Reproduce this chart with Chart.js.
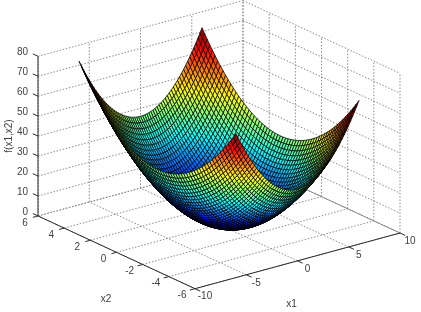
<!DOCTYPE html>
<html>
<head>
<meta charset="utf-8">
<script src="https://cdn.jsdelivr.net/npm/chart.js@4"></script>
<style>
html, body { margin: 0; padding: 0; background: #fff; }
canvas { display: block; }
</style>
</head>
<body>
<canvas id="chart_surface" width="421" height="312"></canvas>
<script>
// grid of the surface, both directions
var x1Grid = [-6,-5.8,-5.6,-5.4,-5.2,-5,-4.8,-4.6,-4.4,-4.2,-4,-3.8,-3.6,-3.4,-3.2,-3,-2.8,-2.6,-2.4,-2.2,-2,-1.8,-1.6,-1.4,-1.2,-1,-0.8,-0.6,-0.4,-0.2,0,0.2,0.4,0.6,0.8,1,1.2,1.4,1.6,1.8,2,2.2,2.4,2.6,2.8,3,3.2,3.4,3.6,3.8,4,4.2,4.4,4.6,4.8,5,5.2,5.4,5.6,5.8,6];
var x2Grid = [-6,-5.8,-5.6,-5.4,-5.2,-5,-4.8,-4.6,-4.4,-4.2,-4,-3.8,-3.6,-3.4,-3.2,-3,-2.8,-2.6,-2.4,-2.2,-2,-1.8,-1.6,-1.4,-1.2,-1,-0.8,-0.6,-0.4,-0.2,0,0.2,0.4,0.6,0.8,1,1.2,1.4,1.6,1.8,2,2.2,2.4,2.6,2.8,3,3.2,3.4,3.6,3.8,4,4.2,4.4,4.6,4.8,5,5.2,5.4,5.6,5.8,6];
// the picture only shows the bowl's edges, so the height is kept as one profile per
// direction, and each grid cell's height is the sum of the two profiles
var heightAlongX1 = [36,33.64,31.36,29.16,27.04,25,23.04,21.16,19.36,17.64,16,14.44,12.96,11.56,10.24,9,7.84,6.76,5.76,4.84,4,3.24,2.56,1.96,1.44,1,0.64,0.36,0.16,0.04,0,0.04,0.16,0.36,0.64,1,1.44,1.96,2.56,3.24,4,4.84,5.76,6.76,7.84,9,10.24,11.56,12.96,14.44,16,17.64,19.36,21.16,23.04,25,27.04,29.16,31.36,33.64,36];
var heightAlongX2 = [36,33.64,31.36,29.16,27.04,25,23.04,21.16,19.36,17.64,16,14.44,12.96,11.56,10.24,9,7.84,6.76,5.76,4.84,4,3.24,2.56,1.96,1.44,1,0.64,0.36,0.16,0.04,0,0.04,0.16,0.36,0.64,1,1.44,1.96,2.56,3.24,4,4.84,5.76,6.76,7.84,9,10.24,11.56,12.96,14.44,16,17.64,19.36,21.16,23.04,25,27.04,29.16,31.36,33.64,36];

var x1Ticks = [-10,-5,0,5,10];
var x2Ticks = [-6,-4,-2,0,2,4,6];
var zTicks = [0,10,20,30,40,50,60,70,80];
var colorMax = 72;

// fixed view, same as the axes box in the picture
function project(x1, x2, z) {
    return {
        x: 195 + (x1 + 10) * 10.25 - (x2 + 6) * 13.08,
        y: 288.7 - (x1 + 10) * 2.785 - (x2 + 6) * 6.06 - z * 1.996
    };
}

function jet(v) {
    var t = Math.max(0, Math.min(1, v / colorMax));
    var ch = function (c) { return Math.round(255 * Math.max(0, Math.min(1, 1.5 - Math.abs(4 * t - c)))); };
    return 'rgb(' + ch(3) + ',' + ch(2) + ',' + ch(1) + ')';
}

var datasets = [];

// near cells first, the library paints the first dataset last
for (var i = 0; i < x1Grid.length - 1; i++) {
    for (var j = 0; j < x2Grid.length - 1; j++) {
        var z00 = heightAlongX1[i] + heightAlongX2[j];
        var z10 = heightAlongX1[i + 1] + heightAlongX2[j];
        var z11 = heightAlongX1[i + 1] + heightAlongX2[j + 1];
        var z01 = heightAlongX1[i] + heightAlongX2[j + 1];
        datasets.push({
            showLine: true,
            fill: 'shape',
            backgroundColor: jet((z00 + z10 + z11 + z01) / 4),
            borderColor: '#000',
            borderWidth: 0.75,
            data: [
                project(x1Grid[i], x2Grid[j], z00),
                project(x1Grid[i + 1], x2Grid[j], z10),
                project(x1Grid[i + 1], x2Grid[j + 1], z11),
                project(x1Grid[i], x2Grid[j + 1], z01),
                project(x1Grid[i], x2Grid[j], z00)
            ]
        });
    }
}

function addLine(a, b, color, width, dash) {
    datasets.push({
        showLine: true,
        fill: false,
        borderColor: color,
        borderWidth: width,
        borderDash: dash,
        data: [a, b]
    });
}

var axisColor = '#2b2b2b';
var gridColor = '#8a8a8a';
var gridDash = [1.5, 1.7];

// axes and tick marks
addLine(project(-10, 6, 0), project(-10, 6, 80), axisColor, 1);
addLine(project(-10, -6, 0), project(-10, 6, 0), axisColor, 1);
addLine(project(-10, -6, 0), project(10, -6, 0), axisColor, 1);
x1Ticks.forEach(function (t) {
    addLine(project(t, -6, 0), project(t, -6.4, 0), axisColor, 1);
});
x2Ticks.forEach(function (t) {
    addLine(project(-10, t, 0), project(-10.5, t, 0), axisColor, 1);
});
zTicks.forEach(function (t) {
    addLine(project(-10, 6, t), project(-10, 6.4, t), axisColor, 1);
});

// dotted grid on the floor and the two back walls
x1Ticks.forEach(function (t) {
    addLine(project(t, -6, 0), project(t, 6, 0), gridColor, 1, gridDash);
    addLine(project(t, 6, 0), project(t, 6, 80), gridColor, 1, gridDash);
});
x2Ticks.forEach(function (t) {
    addLine(project(-10, t, 0), project(10, t, 0), gridColor, 1, gridDash);
    addLine(project(10, t, 0), project(10, t, 80), gridColor, 1, gridDash);
});
zTicks.forEach(function (t) {
    addLine(project(-10, 6, t), project(10, 6, t), gridColor, 1, gridDash);
    addLine(project(10, 6, t), project(10, -6, t), gridColor, 1, t === 0 ? [] : gridDash);
});

var axisText = {
    id: 'axisText',
    afterDraw: function (chart) {
        var ctx = chart.ctx;
        var sx = chart.scales.x, sy = chart.scales.y;
        var put = function (text, p, dx, dy) {
            ctx.fillText(text, sx.getPixelForValue(p.x) + dx, sy.getPixelForValue(p.y) + dy);
        };
        ctx.save();
        ctx.font = '10px "Liberation Sans"';
        ctx.fillStyle = '#404040';
        ctx.textBaseline = 'middle';
        ctx.textAlign = 'right';
        zTicks.forEach(function (t) { put(String(t), project(-10, 6, t), -10, -4); });
        ctx.textAlign = 'center';
        x2Ticks.forEach(function (t) { put(String(t), project(-10, t, 0), -13, 7); });
        x1Ticks.forEach(function (t) { put(String(t), project(t, -6, 0), 10, 8); });
        put('x2', project(-10, -6, 0), -89, 11);
        put('x1', project(0, -6, 0), -6, 43);
        ctx.translate(9, 136);
        ctx.rotate(-Math.PI / 2);
        ctx.fillText('f(x1,x2)', 0, 0);
        ctx.restore();
    }
};

var chart_surface = new Chart(document.getElementById('chart_surface'), {
    type: 'scatter',
    data: { datasets: datasets },
    options: {
        animation: false,
        responsive: false,
        events: [],
        layout: { padding: 0 },
        elements: { point: { radius: 0 }, line: { tension: 0 } },
        plugins: {
            legend: { display: false },
            title: { display: false },
            tooltip: { enabled: false }
        },
        scales: {
            x: { type: 'linear', display: false, min: 0, max: 421 },
            y: { type: 'linear', display: false, min: 0, max: 312, reverse: true }
        }
    },
    plugins: [axisText]
});
</script>
</body>
</html>
